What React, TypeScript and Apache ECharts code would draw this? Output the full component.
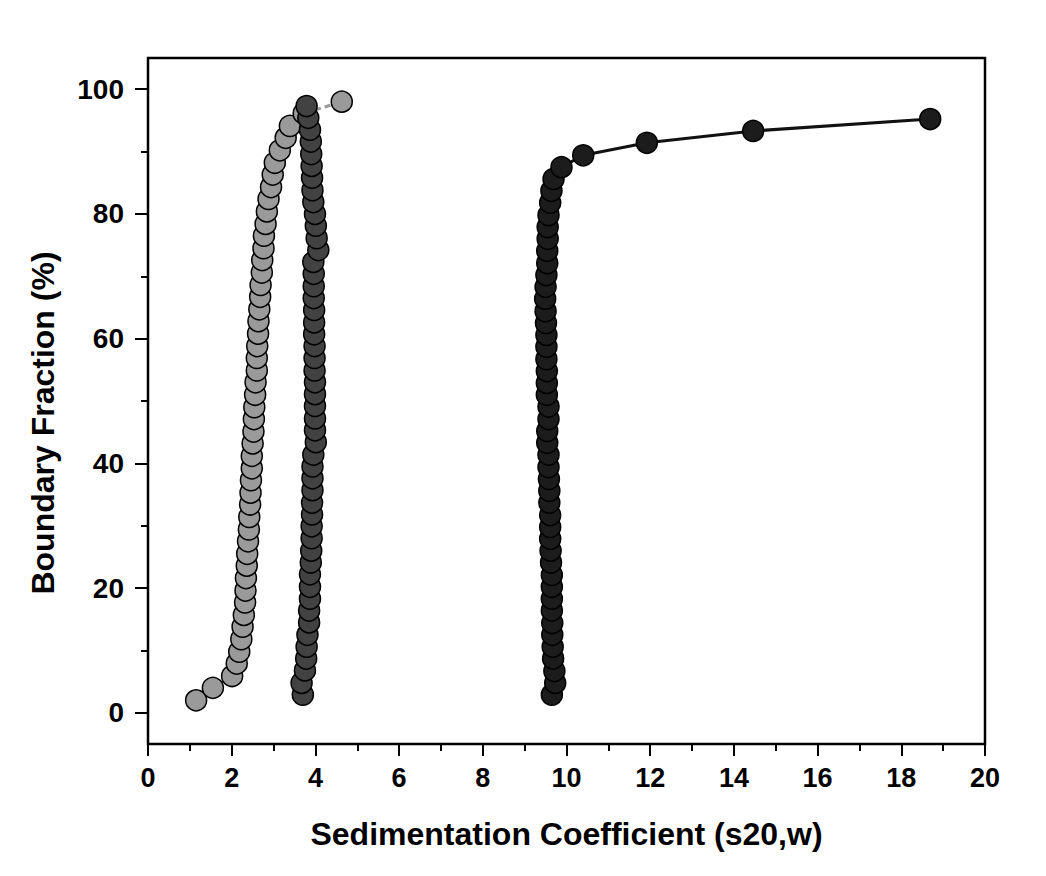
import { useEffect, useRef } from "react";
import * as echarts from "echarts";

// Light grey sample
const lightX = [1.15, 1.55, 2.01, 2.12, 2.18, 2.23, 2.26, 2.29, 2.32, 2.33, 2.34, 2.36, 2.37, 2.39, 2.41, 2.42, 2.44, 2.45, 2.46, 2.48, 2.48, 2.5, 2.52, 2.53, 2.54, 2.56, 2.57, 2.6, 2.6, 2.61, 2.63, 2.64, 2.66, 2.68, 2.69, 2.72, 2.73, 2.76, 2.77, 2.81, 2.84, 2.88, 2.94, 2.98, 3.03, 3.15, 3.29, 3.39, 3.72, 4.63];
const lightY = [2.0, 4.0, 5.9, 7.9, 9.8, 11.8, 13.8, 15.7, 17.7, 19.6, 21.6, 23.6, 25.5, 27.5, 29.4, 31.4, 33.4, 35.3, 37.3, 39.2, 41.2, 43.2, 45.1, 47.1, 49.0, 51.0, 53.0, 54.9, 56.9, 58.8, 60.8, 62.8, 64.7, 66.7, 68.6, 70.6, 72.6, 74.5, 76.5, 78.4, 80.4, 82.4, 84.3, 86.3, 88.2, 90.2, 92.2, 94.1, 96.1, 98.0];

// Dark grey sample
const darkX = [3.7, 3.67, 3.75, 3.78, 3.79, 3.81, 3.85, 3.85, 3.87, 3.87, 3.87, 3.89, 3.9, 3.91, 3.91, 3.92, 3.92, 3.93, 3.93, 3.93, 3.95, 4.01, 3.99, 3.99, 3.99, 3.99, 3.99, 3.98, 3.98, 3.98, 3.97, 3.97, 3.97, 3.96, 3.96, 3.96, 3.95, 4.07, 4.03, 4.01, 3.99, 3.95, 3.93, 3.92, 3.91, 3.9, 3.89, 3.87, 3.83, 3.79];
const darkY = [2.9, 4.8, 6.8, 8.7, 10.6, 12.5, 14.5, 16.4, 18.3, 20.2, 22.2, 24.1, 26.0, 28.0, 29.9, 31.8, 33.7, 35.7, 37.6, 39.5, 41.4, 43.4, 45.3, 47.2, 49.2, 51.1, 53.0, 54.9, 56.9, 58.8, 60.7, 62.6, 64.6, 66.5, 68.4, 70.4, 72.3, 74.2, 76.1, 78.1, 80.0, 81.9, 83.8, 85.8, 87.7, 89.6, 91.6, 93.5, 95.4, 97.3];

// Black sample
const blackX = [9.65, 9.73, 9.71, 9.68, 9.67, 9.66, 9.66, 9.65, 9.65, 9.65, 9.65, 9.63, 9.62, 9.61, 9.61, 9.61, 9.59, 9.59, 9.58, 9.57, 9.57, 9.54, 9.54, 9.57, 9.57, 9.53, 9.53, 9.53, 9.52, 9.52, 9.52, 9.51, 9.5, 9.49, 9.5, 9.52, 9.54, 9.54, 9.55, 9.55, 9.57, 9.61, 9.64, 9.69, 9.88, 10.4, 11.92, 14.46, 18.69];
const blackY = [2.9, 4.8, 6.7, 8.7, 10.6, 12.5, 14.4, 16.4, 18.3, 20.2, 22.1, 24.1, 26.0, 27.9, 29.8, 31.7, 33.7, 35.6, 37.5, 39.4, 41.4, 43.3, 45.2, 47.1, 49.1, 51.0, 52.9, 54.8, 56.7, 58.7, 60.6, 62.5, 64.4, 66.4, 68.3, 70.2, 72.1, 74.1, 76.0, 77.9, 79.8, 81.8, 83.7, 85.6, 87.5, 89.4, 91.4, 93.3, 95.2];

const yMajorTicks = [0, 20, 40, 60, 80, 100];
const yMinorTicks = [10, 30, 50, 70, 90];

const xTitle = "Sedimentation Coefficient (s20,w)";
const yTitle = "Boundary Fraction (%)";

const FONT = "'Liberation Sans', Arial, Helvetica, sans-serif";

const zip = (xs: number[], ys: number[]) => xs.map((x, i) => [x, ys[i]]);

export default function App() {
  const ref = useRef<HTMLDivElement>(null);
  useEffect(() => {
    const chart = echarts.init(ref.current!, null, { renderer: "svg" });
    const tickStyle = { color: "#000", width: 2 };
    chart.setOption({
      animation: false,
      backgroundColor: "#fff",
      grid: {
        left: 148,
        right: 61,
        top: 58,
        bottom: 132,
        show: true,
        borderColor: "#000",
        borderWidth: 2.5,
        backgroundColor: "transparent",
      },
      graphic: [
        {
          type: "text",
          x: 43,
          y: 423,
          rotation: Math.PI / 2,
          style: {
            text: yTitle,
            fontSize: 32,
            fontWeight: "bold",
            fontFamily: FONT,
            fill: "#000",
            textAlign: "center",
            textVerticalAlign: "middle",
          },
        },
      ],
      xAxis: {
        type: "value",
        min: 0,
        max: 20,
        interval: 2,
        axisLine: { show: false, onZero: false },
        axisTick: { show: true, inside: false, length: 12, lineStyle: tickStyle },
        minorTick: { show: true, splitNumber: 2, length: 7, lineStyle: tickStyle },
        splitLine: { show: false },
        minorSplitLine: { show: false },
        axisLabel: { fontSize: 27, fontWeight: "bold", color: "#000", fontFamily: FONT, margin: 20 },
        name: xTitle,
        nameLocation: "middle",
        nameGap: 74,
        nameTextStyle: { fontSize: 32, fontWeight: "bold", color: "#000", fontFamily: FONT, verticalAlign: "top" },
      },
      yAxis: [
        {
          type: "value",
          min: -5,
          max: 105,
          position: "left",
          axisLine: { show: false, onZero: false },
          axisTick: { show: true, inside: false, length: 13, lineStyle: tickStyle, customValues: yMajorTicks },
          splitLine: { show: false },
          axisLabel: { fontSize: 28, fontWeight: "bold", color: "#000", fontFamily: FONT, margin: 24, customValues: yMajorTicks },
        },
        {
          type: "value",
          min: -5,
          max: 105,
          position: "left",
          axisLine: { show: false, onZero: false },
          axisTick: { show: true, inside: false, length: 7, lineStyle: tickStyle, customValues: yMinorTicks },
          axisLabel: { show: false },
          splitLine: { show: false },
        },
      ],
      series: [
        {
          type: "line",
          data: zip(lightX, lightY),
          symbol: "circle",
          symbolSize: 21,
          showAllSymbol: true,
          silent: true,
          itemStyle: { color: "#9a9a9a", borderColor: "#000", borderWidth: 1.5 },
          lineStyle: { color: "#9a9a9a", width: 3, type: [6, 4] },
          z: 2,
        },
        {
          type: "line",
          data: zip(darkX, darkY),
          symbol: "circle",
          symbolSize: 21,
          showAllSymbol: true,
          silent: true,
          itemStyle: { color: "#424242", borderColor: "#000", borderWidth: 1.5 },
          lineStyle: { color: "#424242", width: 2 },
          z: 3,
        },
        {
          type: "line",
          data: zip(blackX, blackY),
          symbol: "circle",
          symbolSize: 21,
          showAllSymbol: true,
          silent: true,
          itemStyle: { color: "#1c1c1c", borderColor: "#000", borderWidth: 1.5 },
          lineStyle: { color: "#111", width: 3 },
          z: 4,
        },
      ],
    });
    return () => chart.dispose();
  }, []);
  return (
    <div
      ref={ref}
      style={{ position: "absolute", left: 0, top: 0, width: 1046, height: 876 }}
    />
  );
}
